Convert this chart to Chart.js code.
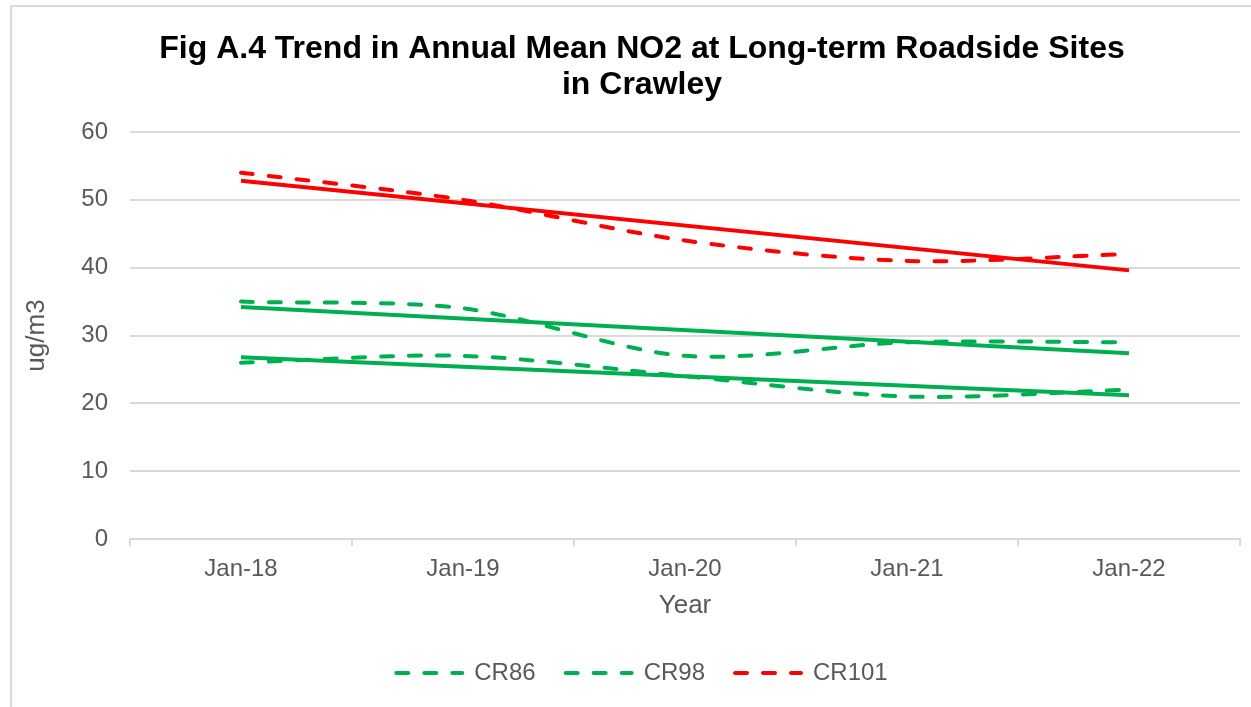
<!DOCTYPE html>
<html lang="en">
<head>
    <meta charset="UTF-8">
    <title>Fig A.4 Trend in Annual Mean NO2</title>
    <script src="https://cdn.jsdelivr.net/npm/chart.js"></script>
    <style>
        body { margin: 0; background: #fff; overflow: hidden; }
        #frame { position: absolute; left: 10px; top: 5px; width: 1280px; height: 740px; border: 2px solid #d9d9d9; }
        #chart { position: absolute; left: 0; top: 0; }
    </style>
</head>
<body>
    <div id="frame"></div>
    <canvas id="chart" width="1251" height="707"></canvas>
    <script>
        // Data
        const years = ['Jan-18', 'Jan-19', 'Jan-20', 'Jan-21', 'Jan-22'];
        const cr86 = [26, 27, 24, 21, 22];
        const cr98 = [35, 34, 27, 29, 29];
        const cr101 = [54, 50, 44, 41, 42];
        // Linear trend lines (start / end values as drawn)
        const cr86Trend = [26.8, null, null, null, 21.2];
        const cr98Trend = [34.2, null, null, null, 27.4];
        const cr101Trend = [52.8, null, null, null, 39.6];
        const yTicks = [0, 10, 20, 30, 40, 50, 60];

        const green = '#00b050';
        const red = '#ff0000';
        const grey = '#595959';
        const font = 'Liberation Sans, Arial, sans-serif';
        const dash = [12, 16];

        function dashed(label, data, color) {
            return {
                label: label, data: data, borderColor: color, backgroundColor: color,
                borderWidth: 4, borderDash: dash, borderCapStyle: 'round',
                pointRadius: 0, tension: 0.3, fill: false
            };
        }
        function trend(label, data, color) {
            return {
                label: label, data: data, borderColor: color, backgroundColor: color,
                borderWidth: 4, pointRadius: 0, spanGaps: true, tension: 0, fill: false
            };
        }

        new Chart(document.getElementById('chart').getContext('2d'), {
            type: 'line',
            data: {
                labels: years,
                datasets: [
                    dashed('CR86', cr86, green),
                    dashed('CR98', cr98, green),
                    dashed('CR101', cr101, red),
                    trend('trend86', cr86Trend, green),
                    trend('trend98', cr98Trend, green),
                    trend('trend101', cr101Trend, red)
                ]
            },
            options: {
                responsive: false,
                animation: false,
                layout: { padding: { left: 44, right: 11, top: 0, bottom: 12 } },
                plugins: {
                    title: {
                        display: true,
                        text: ['Fig A.4 Trend in Annual Mean NO2 at Long-term Roadside Sites', 'in Crawley'],
                        color: '#000',
                        font: { family: font, size: 32, weight: 'bold', lineHeight: 1.1 },
                        padding: { top: 32, bottom: 29.6 }
                    },
                    legend: {
                        position: 'bottom',
                        labels: {
                            filter: item => item.datasetIndex < 3,
                            generateLabels: chart => {
                                const items = Chart.defaults.plugins.legend.labels.generateLabels(chart);
                                items.forEach(it => { it.lineDash = dash; it.lineCap = 'round'; it.lineWidth = 4; });
                                return items;
                            },
                            usePointStyle: true,
                            pointStyle: 'line',
                            pointStyleWidth: 66,
                            padding: 30,
                            color: grey,
                            font: { family: font, size: 24 }
                        }
                    },
                    tooltip: { enabled: false }
                },
                scales: {
                    x: {
                        offset: true,
                        grid: { offset: true, drawOnChartArea: false, drawTicks: true, tickLength: 7, color: '#d9d9d9', lineWidth: 2 },
                        border: { color: '#d9d9d9', width: 2 },
                        ticks: { color: grey, padding: 9, font: { family: font, size: 24 } },
                        title: { display: true, text: 'Year', color: grey, font: { family: font, size: 26 }, padding: { top: 0, bottom: 10 } },
                        afterFit: scale => { scale.height = 92; }
                    },
                    y: {
                        min: 0,
                        max: 60,
                        afterBuildTicks: scale => { scale.ticks = yTicks.map(v => ({ value: v })); },
                        grid: { color: '#d9d9d9', lineWidth: 2, drawTicks: false },
                        border: { display: false },
                        ticks: { color: grey, padding: 22, font: { family: font, size: 24 } },
                        title: { display: true, text: 'ug/m3', color: grey, font: { family: font, size: 26 }, padding: { top: -23, bottom: 0 } },
                        afterFit: scale => { scale.width = 86; }
                    }
                }
            }
        });
    </script>
</body>
</html>
